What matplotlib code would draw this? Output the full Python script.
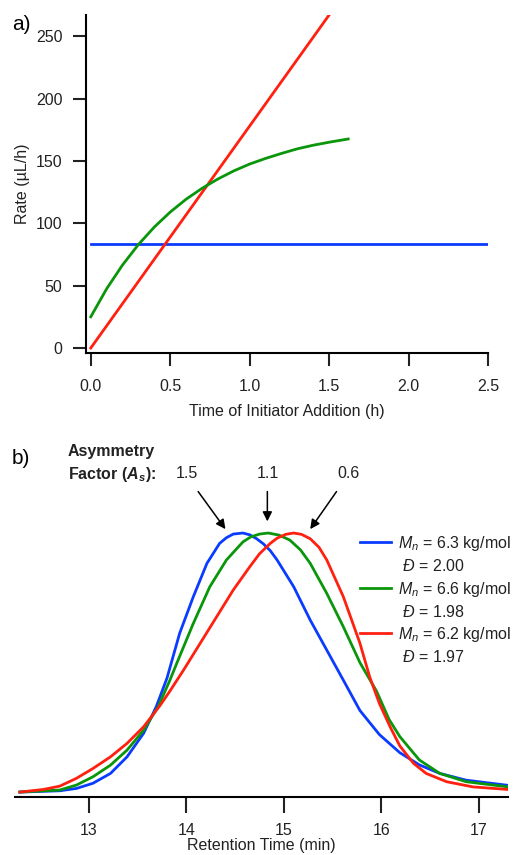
import numpy as np
import matplotlib
matplotlib.use('Agg')
import matplotlib.pyplot as plt
from matplotlib.lines import Line2D

plt.rcParams['font.family'] = ['Liberation Sans', 'DejaVu Sans']
plt.rcParams['mathtext.fontset'] = 'custom'
plt.rcParams['mathtext.rm'] = 'Liberation Sans'
plt.rcParams['mathtext.it'] = 'Liberation Sans:italic'
plt.rcParams['mathtext.bf'] = 'Liberation Sans:bold'
plt.rcParams['mathtext.bfit'] = 'Liberation Sans:italic:bold'

BLUE = '#0a3cff'
GREEN = '#0a960a'
RED = '#ff2010'
TXT = '#222222'

# ---- panel a data: rate vs time of initiator addition
t_blue = [0.0, 2.5]
r_blue = [83, 83]
t_red = [0.0, 0.5, 1.0, 1.5, 1.6]
r_red = [0, 89, 178, 267, 285]
t_green = [0.0, 0.1, 0.2, 0.3, 0.4, 0.5, 0.6, 0.7, 0.8, 0.9, 1.0, 1.1, 1.2, 1.3, 1.4, 1.5, 1.62]
r_green = [25, 47.5, 66.6, 83, 97, 109, 119.3, 128, 135.5, 142, 147.5, 152, 156, 159.7, 162.6, 165, 167.6]

# ---- panel b data: normalized SEC traces
rt_blue = [12.29, 12.70, 12.87, 13.04, 13.22, 13.39, 13.56, 13.69, 13.80, 13.93, 14.07, 14.21, 14.34,
           14.41, 14.48, 14.58, 14.65, 14.72, 14.79, 14.86, 14.93, 15.10, 15.27, 15.44, 15.61, 15.78,
           15.98, 16.19, 16.39, 16.60, 16.87, 17.30]
s_blue = [0.0, 0.005, 0.014, 0.034, 0.072, 0.136, 0.227, 0.33, 0.44, 0.613, 0.754, 0.883, 0.96,
          0.982, 0.996, 1.0, 0.993, 0.978, 0.958, 0.932, 0.896, 0.793, 0.664, 0.548, 0.432, 0.315,
          0.222, 0.152, 0.105, 0.072, 0.046, 0.026]
rt_green = [12.29, 12.70, 12.87, 13.04, 13.22, 13.39, 13.56, 13.71, 13.83, 13.90, 14.07, 14.24, 14.41,
            14.58, 14.66, 14.75, 14.84, 14.95, 15.06, 15.17, 15.27, 15.44, 15.61, 15.78, 15.95, 16.08,
            16.19, 16.39, 16.60, 16.87, 17.30]
s_green = [0.0, 0.008, 0.027, 0.059, 0.104, 0.162, 0.239, 0.33, 0.432, 0.497, 0.651, 0.793, 0.896,
           0.966, 0.985, 0.996, 1.0, 0.992, 0.973, 0.935, 0.883, 0.767, 0.638, 0.50, 0.39, 0.28,
           0.214, 0.124, 0.072, 0.04, 0.02]
rt_red = [12.29, 12.53, 12.70, 12.87, 13.04, 13.22, 13.39, 13.56, 13.73, 13.83, 13.97, 14.14, 14.31,
          14.48, 14.65, 14.75, 14.86, 14.93, 15.02, 15.10, 15.18, 15.27, 15.36, 15.44, 15.61, 15.78,
          15.88, 15.98, 16.09, 16.19, 16.33, 16.46, 16.67, 16.94, 17.30]
s_red = [0.0, 0.01, 0.023, 0.053, 0.091, 0.136, 0.188, 0.252, 0.335, 0.39, 0.471, 0.574, 0.677,
         0.78, 0.87, 0.92, 0.96, 0.98, 0.995, 1.0, 0.995, 0.978, 0.945, 0.896, 0.754, 0.575,
         0.445, 0.342, 0.252, 0.178, 0.111, 0.072, 0.040, 0.02, 0.01]

labels_mn = ['6.3', '6.6', '6.2']
labels_d = ['2.00', '1.98', '1.97']
asym = ['1.5', '1.1', '0.6']

W, H = 521, 855
fig = plt.figure(figsize=(W / 100, H / 100), dpi=100)

def frac(x0, y0, x1, y1):
    return [x0 / W, 1 - y1 / H, (x1 - x0) / W, (y1 - y0) / H]

# ---------------- panel a
ax = fig.add_axes(frac(86, 15, 488, 353))
lw = 2.0
ax.plot(t_blue, r_blue, color=BLUE, lw=lw)
ax.plot(t_red, r_red, color=RED, lw=lw)
ax.plot(t_green, r_green, color=GREEN, lw=lw)
ax.set_xlim(-0.03, 2.5)
ax.set_ylim(-4, 267)
ax.set_xticks([0.0, 0.5, 1.0, 1.5, 2.0, 2.5])
ax.set_xticklabels(['0.0', '0.5', '1.0', '1.5', '2.0', '2.5'])
ax.set_yticks([0, 50, 100, 150, 200, 250])
for s in ['top', 'right']:
    ax.spines[s].set_visible(False)
for s in ['left', 'bottom']:
    ax.spines[s].set_linewidth(1.5)
ax.tick_params(direction='out', length=9.5, width=1.5, labelsize=11.5, colors=TXT)
ax.tick_params(axis='x', pad=9)
ax.tick_params(axis='y', pad=7.5)
ax.set_xlabel('Time of Initiator Addition (h)', fontsize=11.5, color=TXT, labelpad=7.5)
ax.set_ylabel('Rate (µL/h)', fontsize=11.5, color=TXT, labelpad=4)
fig.text(12 / W, 1 - 25 / H, 'a)', fontsize=15, va='center', ha='left')

# ---------------- panel b
bx = fig.add_axes(frac(15, 525, 508, 797))
lw = 2.0
hb, = bx.plot(rt_blue, s_blue, color=BLUE, lw=lw)
hg, = bx.plot(rt_green, s_green, color=GREEN, lw=lw)
hr, = bx.plot(rt_red, s_red, color=RED, lw=lw)
bx.set_xlim(12.24, 17.3)
bx.set_ylim(-0.019, 1.031)
bx.set_xticks([13, 14, 15, 16, 17])
bx.set_yticks([])
for s in ['top', 'right', 'left']:
    bx.spines[s].set_visible(False)
bx.spines['bottom'].set_linewidth(1.5)
bx.tick_params(direction='out', length=11.5, width=1.5, labelsize=11.5, pad=7, colors=TXT)
bx.set_xlabel('Retention Time (min)', fontsize=11.5, color=TXT, labelpad=0.5)

blank = Line2D([], [], color='none')
handles = [hb, blank, hg, blank, hr, blank]
labels = []
for mn, d in zip(labels_mn, labels_d):
    labels.append(r'$M_n$ = ' + mn + ' kg/mol')
    labels.append(r' $\mathit{Đ}$ = ' + d)
fig.legend(handles, labels, loc='upper left', bbox_to_anchor=(360 / W, 1 - 534 / H),
           frameon=False, fontsize=11.5, handlelength=1.95, handletextpad=0.45,
           labelspacing=0.33, borderpad=0, borderaxespad=0, labelcolor=TXT)

# asymmetry arrows
tips = [(14.40, 1.015), (14.83, 1.045), (15.27, 1.015)]
tails = [(14.12, 1.16), (14.83, 1.16), (15.54, 1.16)]
labx = [14.00, 14.84, 15.66]
for a, tip, tail, lx in zip(asym, tips, tails, labx):
    bx.annotate('', xy=tip, xytext=tail, annotation_clip=False,
                arrowprops=dict(arrowstyle='-|>', color='black', lw=1.1, mutation_scale=14,
                                shrinkA=0, shrinkB=0))
    bx.text(lx, 1.228, a, fontsize=11.5, ha='center', va='center', color=TXT, clip_on=False)

fig.text(12 / W, 1 - 458 / H, 'b)', fontsize=15, va='center', ha='left')
fig.text(68 / W, 1 - 451 / H, 'Asymmetry', fontsize=11.5, fontweight='bold', va='center', ha='left', color=TXT)
fig.text(68 / W, 1 - 474 / H, r'Factor ($\mathbfit{A_s}$):', fontsize=11.5, fontweight='bold',
         va='center', ha='left', color=TXT)

fig.savefig('out.png', dpi=100)
